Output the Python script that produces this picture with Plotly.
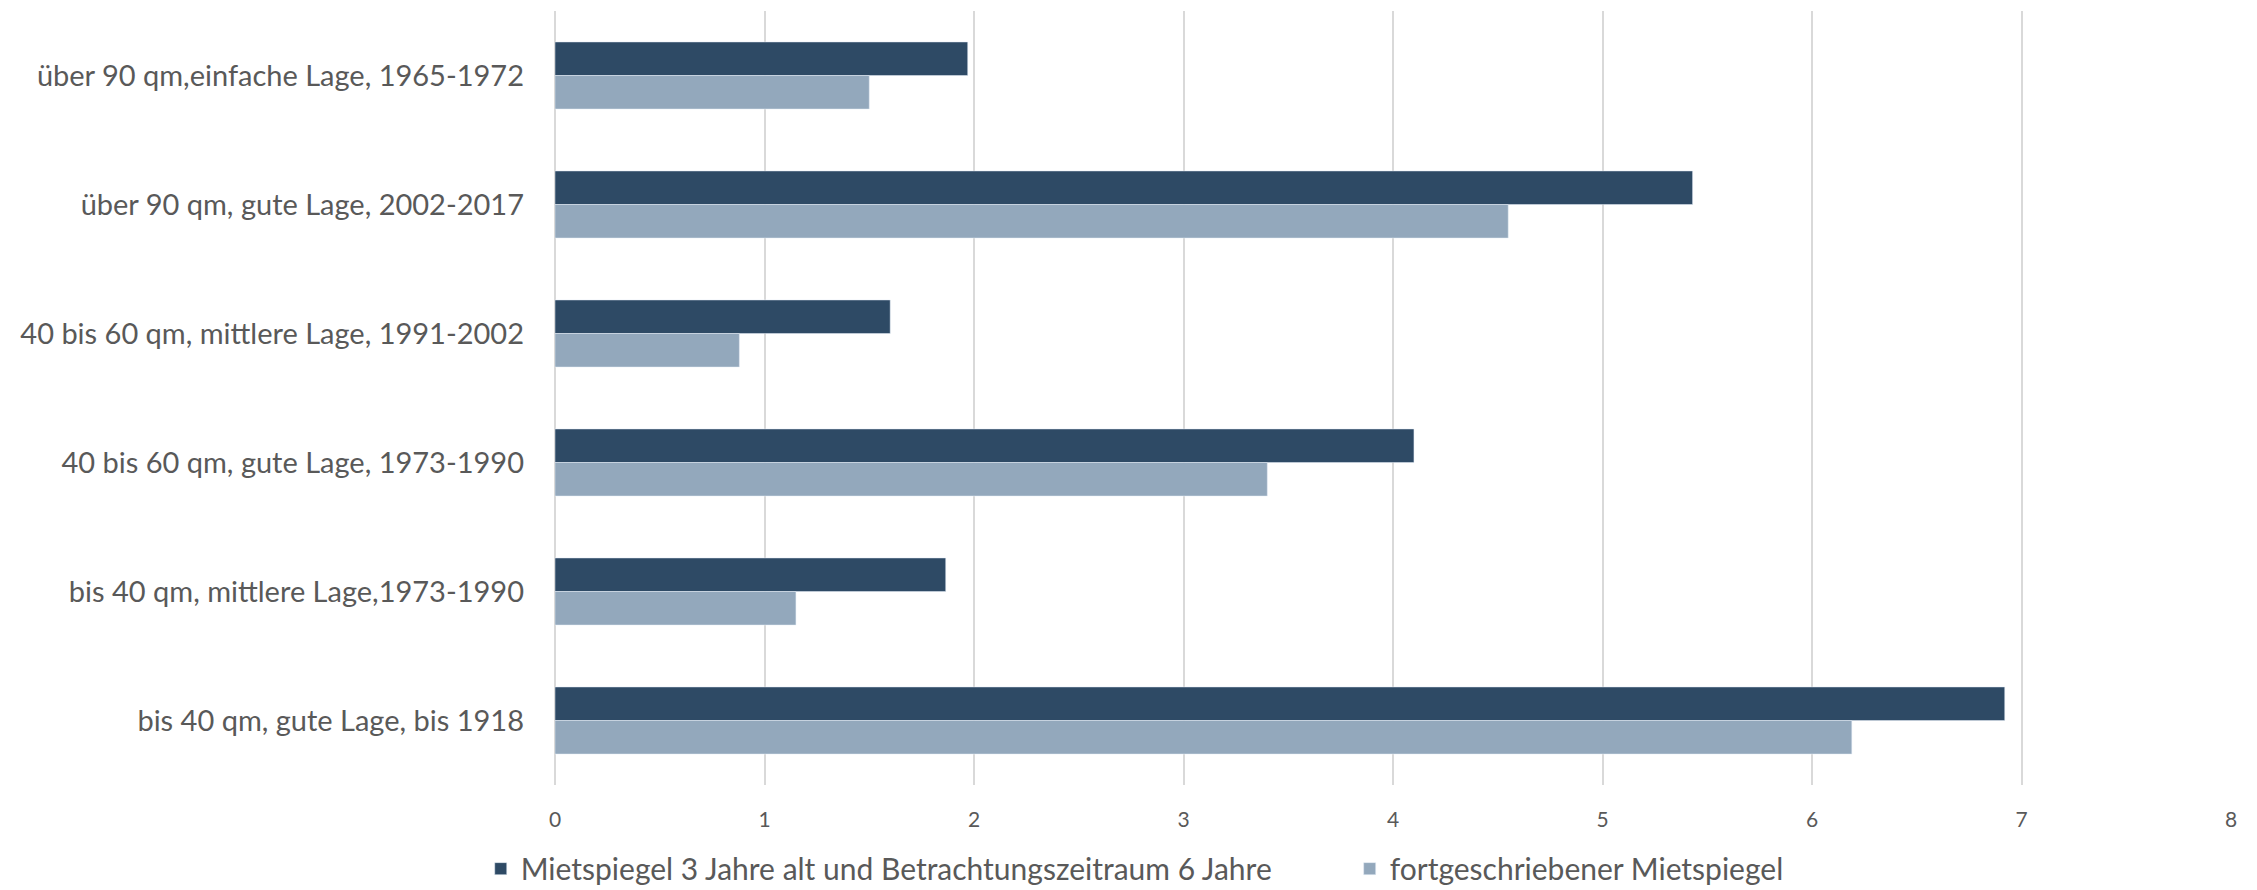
import plotly.graph_objects as go

# Wohnungstypen, von oben nach unten
categories = [
    "über 90 qm,einfache Lage, 1965-1972",
    "über 90 qm, gute Lage, 2002-2017",
    "40 bis 60 qm, mittlere Lage, 1991-2002",
    "40 bis 60 qm, gute Lage, 1973-1990",
    "bis 40 qm, mittlere Lage,1973-1990",
    "bis 40 qm, gute Lage, bis 1918",
]
series_names = [
    "Mietspiegel 3 Jahre alt und Betrachtungszeitraum 6 Jahre",
    "fortgeschriebener Mietspiegel",
]
mietspiegel_6j = [1.97, 5.43, 1.60, 4.10, 1.865, 6.92]
fortgeschrieben = [1.50, 4.55, 0.88, 3.40, 1.15, 6.19]
x_ticks = [0, 1, 2, 3, 4, 5, 6, 7, 8]

DARK = "#2E4A65"
LIGHT = "#93A8BC"
TEXT = "#595959"
FONT = "Lato, 'Open Sans', sans-serif"

fig = go.Figure()
fig.add_trace(go.Bar(
    y=categories, x=mietspiegel_6j, orientation="h",
    name=series_names[0], marker=dict(color=DARK), legend="legend",
))
fig.add_trace(go.Bar(
    y=categories, x=fortgeschrieben, orientation="h",
    name=series_names[1], marker=dict(color=LIGHT), legend="legend2",
))

legend_common = dict(
    orientation="h",
    xref="container", yref="container",
    y=0.024, xanchor="left", yanchor="middle",
    font=dict(size=30, color=TEXT, family=FONT),
    bgcolor="rgba(0,0,0,0)",
)

fig.update_layout(
    width=2257, height=890,
    margin=dict(l=555, r=26, t=11, b=105, autoexpand=False),
    paper_bgcolor="white", plot_bgcolor="white",
    barmode="group", bargap=0.48, bargroupgap=0,
    font=dict(family=FONT, color=TEXT),
    showlegend=True,
    legend=dict(x=0.213, **legend_common),
    legend2=dict(x=0.598, **legend_common),
)
fig.update_xaxes(
    range=[0, 8], tickvals=x_ticks, ticktext=[str(v) for v in x_ticks],
    showgrid=True, gridcolor="#D9D9D9", gridwidth=1.5,
    zeroline=True, zerolinecolor="#D9D9D9", zerolinewidth=1.5,
    showline=False, ticks="",
    tickfont=dict(size=21, color=TEXT, family=FONT),
    ticklabelstandoff=20,
)
fig.update_yaxes(
    categoryorder="array", categoryarray=categories,
    autorange="reversed",
    showgrid=False, showline=False, ticks="",
    tickfont=dict(size=29, color=TEXT, family=FONT),
    ticklabelstandoff=30,
)

fig.write_html("out.html")
